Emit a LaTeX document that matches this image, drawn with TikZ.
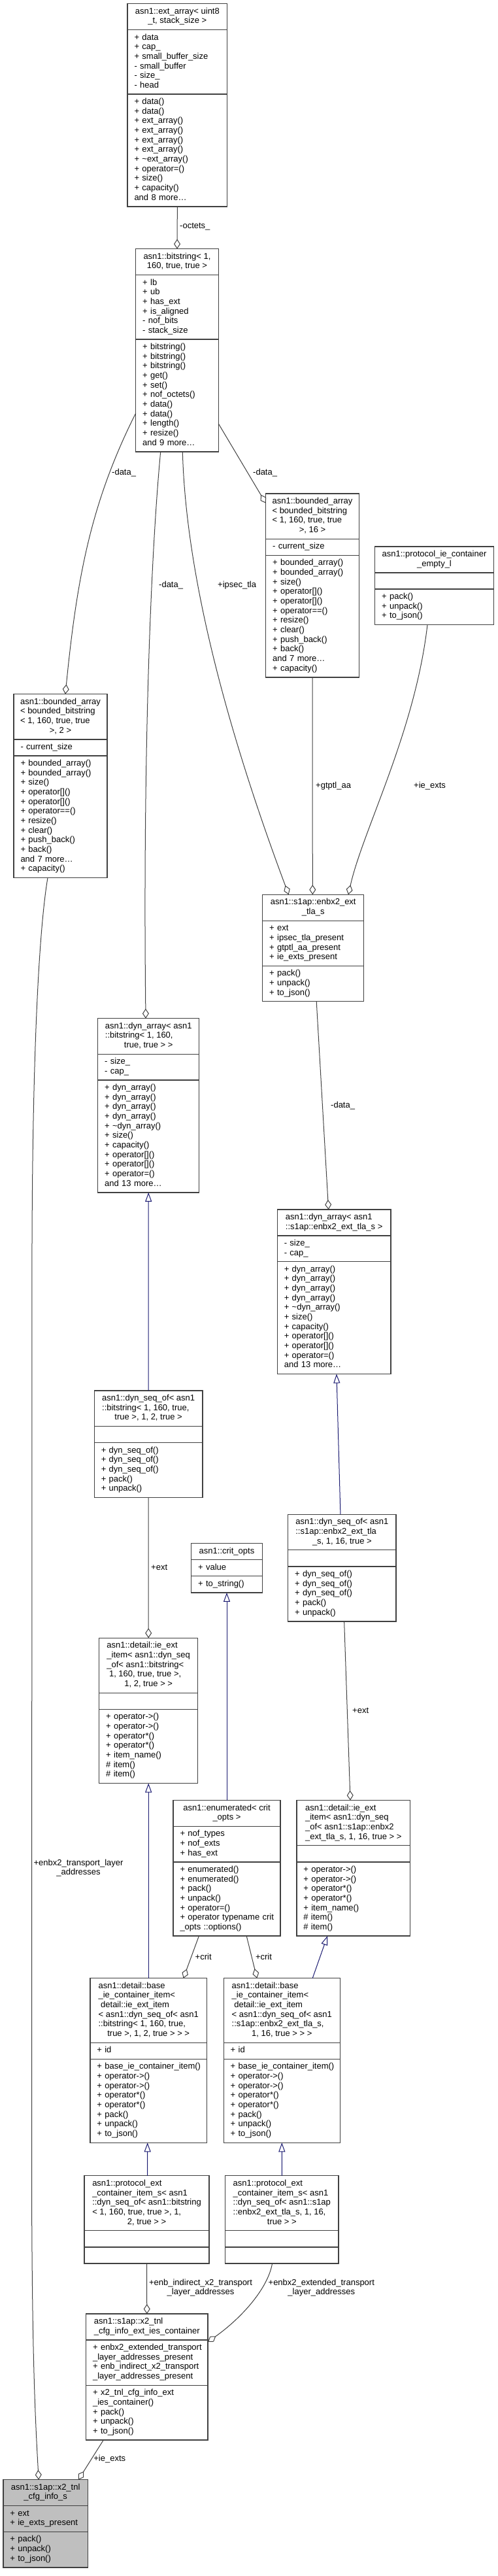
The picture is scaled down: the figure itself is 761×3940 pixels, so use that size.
\documentclass[tikz,border=0pt]{standalone}
\usepackage{fontspec}
\setmainfont{Liberation Sans}
\usetikzlibrary{positioning, arrows.meta}
\definecolor{boxline}{RGB}{64,64,64}
\definecolor{edgegray}{RGB}{64,64,64}
\definecolor{inhblue}{RGB}{25,25,112}
\definecolor{focusgray}{RGB}{191,191,191}
\newcommand\clsname[2]{\begin{tabular}{@{}l@{}}#1\\\multicolumn{1}{@{}c@{}}{#2}\end{tabular}}
\newcommand\members[1]{\begin{tabular}{@{}l@{}}#1\end{tabular}}
\tikzset{
    cls part/.style={draw=boxline, line width=1.3pt, fill=white, outer sep=0pt, inner ysep=0pt, anchor=north},
    cls head/.style={cls part, minimum width=#1pt, inner xsep=0pt},
    cls body/.style={cls part, minimum width=#1pt, text width=#1pt-21pt, inner xsep=10.5pt, align=left},
    nrows/.style={minimum height=#1*14.67pt+10.5pt},
    use edge/.style={draw=edgegray, line width=1pt, -{Diamond[open, length=15pt, width=10pt]}},
    inherit edge/.style={draw=inhblue, line width=1pt, -{Triangle[open, length=14pt, width=10pt]}},
    edge label/.style={inner sep=0pt, anchor=west},
}

\begin{document}
\begin{tikzpicture}[x=1pt, y=-1pt, font=\fontsize{13}{14.67}\selectfont]
    \useasboundingbox (0,0) rectangle (761,3940);

    \node[cls head=152.7, nrows=2] (ttlEA) at (271.35,5.7) {\clsname{asn1::ext\_array< uint8}{\_t, stack\_size >}};
    \node[cls body=152.7, nrows=6, below=0pt of ttlEA] (attEA) {\members{+ data\\+ cap\_\\+ small\_buffer\_size\\- small\_buffer\\- size\_\\- head}};
    \node[cls body=152.7, nrows=11, below=0pt of attEA] (mthEA) {\members{+ data()\\+ data()\\+ ext\_array()\\+ ext\_array()\\+ ext\_array()\\+ ext\_array()\\+ \textasciitilde ext\_array()\\+ operator=()\\+ size()\\+ capacity()\\and 8 more…}};

    \node[cls head=126.6, nrows=2] (ttlBS) at (271,380.7) {\clsname{asn1::bitstring< 1,}{160, true, true >}};
    \node[cls body=126.6, nrows=6, below=0pt of ttlBS] (attBS) {\members{+ lb\\+ ub\\+ has\_ext\\+ is\_aligned\\- nof\_bits\\- stack\_size}};
    \node[cls body=126.6, nrows=11, below=0pt of attBS] (mthBS) {\members{+ bitstring()\\+ bitstring()\\+ bitstring()\\+ get()\\+ set()\\+ nof\_octets()\\+ data()\\+ data()\\+ length()\\+ resize()\\and 9 more…}};

    \node[cls head=142.6, nrows=4] (ttlBA) at (478,755) {\clsname{asn1::bounded\_array\\< bounded\_bitstring\\< 1, 160, true, true}{>, 16 >}};
    \node[cls body=142.6, nrows=1, below=0pt of ttlBA] (attBA) {\members{- current\_size}};
    \node[cls body=142.6, nrows=12, below=0pt of attBA] (mthBA) {\members{+ bounded\_array()\\+ bounded\_array()\\+ size()\\+ operator[]()\\+ operator[]()\\+ operator==()\\+ resize()\\+ clear()\\+ push\_back()\\+ back()\\and 7 more…\\+ capacity()}};

    \node[cls head=181.6, nrows=2] (ttlPE) at (664.5,836) {\clsname{asn1::protocol\_ie\_container}{\_empty\_l}};
    \node[cls body=181.6, nrows=1, below=0pt of ttlPE] (attPE) {};
    \node[cls body=181.6, nrows=3, below=0pt of attPE] (mthPE) {\members{+ pack()\\+ unpack()\\+ to\_json()}};

    \node[cls head=143, nrows=4] (ttlBB) at (92.5,1061.7) {\clsname{asn1::bounded\_array\\< bounded\_bitstring\\< 1, 160, true, true}{>, 2 >}};
    \node[cls body=143, nrows=1, below=0pt of ttlBB] (attBB) {\members{- current\_size}};
    \node[cls body=143, nrows=12, below=0pt of attBB] (mthBB) {\members{+ bounded\_array()\\+ bounded\_array()\\+ size()\\+ operator[]()\\+ operator[]()\\+ operator==()\\+ resize()\\+ clear()\\+ push\_back()\\+ back()\\and 7 more…\\+ capacity()}};

    \node[cls head=155, nrows=2] (ttlET) at (479.2,1368.3) {\clsname{asn1::s1ap::enbx2\_ext}{\_tla\_s}};
    \node[cls body=155, nrows=4, below=0pt of ttlET] (attET) {\members{+ ext\\+ ipsec\_tla\_present\\+ gtptl\_aa\_present\\+ ie\_exts\_present}};
    \node[cls body=155, nrows=3, below=0pt of attET] (mthET) {\members{+ pack()\\+ unpack()\\+ to\_json()}};

    \node[cls head=155, nrows=3] (ttlDA) at (227.2,1557.7) {\clsname{asn1::dyn\_array< asn1\\::bitstring< 1, 160,}{true, true > >}};
    \node[cls body=155, nrows=2, below=0pt of ttlDA] (attDA) {\members{- size\_\\- cap\_}};
    \node[cls body=155, nrows=11, below=0pt of attDA] (mthDA) {\members{+ dyn\_array()\\+ dyn\_array()\\+ dyn\_array()\\+ dyn\_array()\\+ \textasciitilde dyn\_array()\\+ size()\\+ capacity()\\+ operator[]()\\+ operator[]()\\+ operator=()\\and 13 more…}};

    \node[cls head=173.7, nrows=2] (ttlDE) at (511.15,1850) {\clsname{asn1::dyn\_array< asn1}{::s1ap::enbx2\_ext\_tla\_s >}};
    \node[cls body=173.7, nrows=2, below=0pt of ttlDE] (attDE) {\members{- size\_\\- cap\_}};
    \node[cls body=173.7, nrows=11, below=0pt of attDE] (mthDE) {\members{+ dyn\_array()\\+ dyn\_array()\\+ dyn\_array()\\+ dyn\_array()\\+ \textasciitilde dyn\_array()\\+ size()\\+ capacity()\\+ operator[]()\\+ operator[]()\\+ operator=()\\and 13 more…}};

    \node[cls head=165.7, nrows=3] (ttlSB) at (227.15,2127) {\clsname{asn1::dyn\_seq\_of< asn1\\::bitstring< 1, 160, true,}{true >, 1, 2, true >}};
    \node[cls body=165.7, nrows=1, below=0pt of ttlSB] (attSB) {};
    \node[cls body=165.7, nrows=5, below=0pt of attSB] (mthSB) {\members{+ dyn\_seq\_of()\\+ dyn\_seq\_of()\\+ dyn\_seq\_of()\\+ pack()\\+ unpack()}};

    \node[cls head=108.6, nrows=1] (ttlCO) at (347,2360.4) {asn1::crit\_opts};
    \node[cls body=108.6, nrows=1, below=0pt of ttlCO] (attCO) {\members{+ value}};
    \node[cls body=108.6, nrows=1, below=0pt of attCO] (mthCO) {\members{+ to\_string()}};

    \node[cls head=165.3, nrows=3] (ttlSE) at (523.35,2316.3) {\clsname{asn1::dyn\_seq\_of< asn1\\::s1ap::enbx2\_ext\_tla}{\_s, 1, 16, true >}};
    \node[cls body=165.3, nrows=1, below=0pt of ttlSE] (attSE) {};
    \node[cls body=165.3, nrows=5, below=0pt of attSE] (mthSE) {\members{+ dyn\_seq\_of()\\+ dyn\_seq\_of()\\+ dyn\_seq\_of()\\+ pack()\\+ unpack()}};

    \node[cls head=151, nrows=5] (ttlIB) at (227.2,2505.3) {\clsname{asn1::detail::ie\_ext\\\_item< asn1::dyn\_seq\\\_of< asn1::bitstring<\\\ 1, 160, true, true >,}{1, 2, true > >}};
    \node[cls body=151, nrows=1, below=0pt of ttlIB] (attIB) {};
    \node[cls body=151, nrows=7, below=0pt of attIB] (mthIB) {\members{+ operator->()\\+ operator->()\\+ operator*()\\+ operator*()\\+ item\_name()\\\# item()\\\# item()}};

    \node[cls head=164, nrows=2] (ttlEN) at (347,2753.5) {\clsname{asn1::enumerated< crit}{\_opts >}};
    \node[cls body=164, nrows=3, below=0pt of ttlEN] (attEN) {\members{+ nof\_types\\+ nof\_exts\\+ has\_ext}};
    \node[cls body=164, nrows=7, below=0pt of attEN] (mthEN) {\members{+ enumerated()\\+ enumerated()\\+ pack()\\+ unpack()\\+ operator=()\\+ operator typename crit\\\_opts ::options()}};

    \node[cls head=173.8, nrows=4] (ttlIE) at (540.8,2753.5) {\clsname{asn1::detail::ie\_ext\\\_item< asn1::dyn\_seq\\\_of< asn1::s1ap::enbx2}{\_ext\_tla\_s, 1, 16, true > >}};
    \node[cls body=173.8, nrows=1, below=0pt of ttlIE] (attIE) {};
    \node[cls body=173.8, nrows=7, below=0pt of attIE] (mthIE) {\members{+ operator->()\\+ operator->()\\+ operator*()\\+ operator*()\\+ item\_name()\\\# item()\\\# item()}};

    \node[cls head=178.6, nrows=6] (ttlCB) at (227.2,3025.7) {\clsname{asn1::detail::base\\\_ie\_container\_item<\\\ detail::ie\_ext\_item\\< asn1::dyn\_seq\_of< asn1\\::bitstring< 1, 160, true,}{true >, 1, 2, true > > >}};
    \node[cls body=178.6, nrows=1, below=0pt of ttlCB] (attCB) {\members{+ id}};
    \node[cls body=178.6, nrows=8, below=0pt of attCB] (mthCB) {\members{+ base\_ie\_container\_item()\\+ operator->()\\+ operator->()\\+ operator*()\\+ operator*()\\+ pack()\\+ unpack()\\+ to\_json()}};

    \node[cls head=178.2, nrows=6] (ttlCE) at (431.3,3025.7) {\clsname{asn1::detail::base\\\_ie\_container\_item<\\\ detail::ie\_ext\_item\\< asn1::dyn\_seq\_of< asn1\\::s1ap::enbx2\_ext\_tla\_s,}{1, 16, true > > >}};
    \node[cls body=178.2, nrows=1, below=0pt of ttlCE] (attCE) {\members{+ id}};
    \node[cls body=178.2, nrows=8, below=0pt of attCE] (mthCE) {\members{+ base\_ie\_container\_item()\\+ operator->()\\+ operator->()\\+ operator*()\\+ operator*()\\+ pack()\\+ unpack()\\+ to\_json()}};

    \node[cls head=190.9, nrows=5] (ttlPB) at (224.55,3327.8) {\clsname{asn1::protocol\_ext\\\_container\_item\_s< asn1\\::dyn\_seq\_of< asn1::bitstring\\< 1, 160, true, true >, 1,}{2, true > >}};
    \node[cls body=190.9, nrows=1, below=0pt of ttlPB] (attPB) {};
    \node[cls body=190.9, nrows=1, below=0pt of attPB] (mthPB) {};

    \node[cls head=173.3, nrows=5] (ttlPX) at (431.35,3327.8) {\clsname{asn1::protocol\_ext\\\_container\_item\_s< asn1\\::dyn\_seq\_of< asn1::s1ap\\::enbx2\_ext\_tla\_s, 1, 16,}{true > >}};
    \node[cls body=173.3, nrows=1, below=0pt of ttlPX] (attPX) {};
    \node[cls body=173.3, nrows=1, below=0pt of attPX] (mthPX) {};

    \node[cls head=186.4, nrows=2] (ttlXC) at (224.8,3539.1) {\clsname{asn1::s1ap::x2\_tnl}{\_cfg\_info\_ext\_ies\_container}};
    \node[cls body=186.4, nrows=4, below=0pt of ttlXC] (attXC) {\members{+ enbx2\_extended\_transport\\\_layer\_addresses\_present\\+ enb\_indirect\_x2\_transport\\\_layer\_addresses\_present}};
    \node[cls body=186.4, nrows=5, below=0pt of attXC] (mthXC) {\members{+ x2\_tnl\_cfg\_info\_ext\\\_ies\_container()\\+ pack()\\+ unpack()\\+ to\_json()}};

    \node[cls head=129.6, nrows=2, fill=focusgray] (ttlXS) at (69.7,3792.7) {\clsname{asn1::s1ap::x2\_tnl}{\_cfg\_info\_s}};
    \node[cls body=129.6, nrows=2, below=0pt of ttlXS, fill=focusgray] (attXS) {\members{+ ext\\+ ie\_exts\_present}};
    \node[cls body=129.6, nrows=3, below=0pt of attXS, fill=focusgray] (mthXS) {\members{+ pack()\\+ unpack()\\+ to\_json()}};

    \draw[use edge] (mthEA.south) -- (ttlBS.north);
    \draw[use edge] ([yshift=-27pt]mthBS.west) .. controls (140,767) and (118,880) .. ([xshift=7.5pt]ttlBB.north);
    \draw[use edge] ([xshift=-25.3pt]mthBS.south) .. controls (228,880) and (219,1200) .. ([xshift=-4.2pt]ttlDA.north);
    \draw[use edge] ([xshift=8.3pt]mthBS.south) .. controls (285,900) and (360,1150) .. ([xshift=-37.5pt]ttlET.north);
    \draw[use edge] ([yshift=-43pt]mthBS.east) -- ([yshift=20pt]ttlBA.west);
    \draw[use edge] ([xshift=-10.5pt]mthPE.south) .. controls (635,1120) and (555,1270) .. ([xshift=53.8pt]ttlET.north);
    \draw[use edge] (mthBA.south) -- ([xshift=-0.9pt]ttlET.north);
    \draw[use edge] ([xshift=5pt]mthET.south) -- ([xshift=-8.5pt]ttlDE.north);
    \draw[inherit edge] ([xshift=-2.4pt]ttlSE.north) -- ([xshift=3.8pt]mthDE.south);
    \draw[inherit edge] (ttlSB.north) -- (mthDA.south);
    \draw[use edge] (mthSB.south) -- (ttlIB.north);
    \draw[use edge] ([xshift=3.3pt]mthSE.south) -- ([xshift=-4.8pt]ttlIE.north);
    \draw[inherit edge] (ttlEN.north) -- (mthCO.south);
    \draw[inherit edge] (ttlCB.north) -- (mthIB.south);
    \draw[use edge] ([xshift=-42.6pt]mthEN.south) -- ([xshift=53.4pt]ttlCB.north);
    \draw[use edge] ([xshift=30.2pt]mthEN.south) -- ([xshift=-38.1pt]ttlCE.north);
    \draw[inherit edge] ([xshift=46.9pt]ttlCE.north) -- ([xshift=-39.8pt]mthIE.south);
    \draw[inherit edge] ([xshift=1.1pt]ttlPB.north) -- ([xshift=-1.5pt]mthCB.south);
    \draw[inherit edge] (ttlPX.north) -- (mthCE.south);
    \draw[use edge] (mthPB.south) -- (ttlXC.north);
    \draw[use edge] ([xshift=-14.8pt]mthPX.south) .. controls (410,3500) and (370,3545) .. ([yshift=-3pt]attXC.north east);
    \draw[use edge] ([xshift=-66.5pt]mthXC.south) -- ([xshift=50.3pt]ttlXS.north);
    \draw[use edge] ([xshift=-19.5pt]mthBB.south) .. controls (60,1420) and (50,1600) .. (49,1900) -- (48.5,3300) .. controls (48.5,3600) and (54,3700) .. ([xshift=-10.5pt]ttlXS.north);

    \node[edge label] (lOctets) at (275,347) {-octets\_};
    \node[edge label] (lDataBB) at (171,723) {-data\_};
    \node[edge label] (lDataDA) at (243,895) {-data\_};
    \node[edge label] (lIpsec) at (333,895) {+ipsec\_tla};
    \node[edge label] (lDataBA) at (387,723) {-data\_};
    \node[edge label] (lIeExtsET) at (633,1201.7) {+ie\_exts};
    \node[edge label] (lGtptl) at (483,1201.7) {+gtptl\_aa};
    \node[edge label] (lDataDE) at (506,1690.7) {-data\_};
    \node[edge label] (lExtIB) at (231,2397) {+ext};
    \node[edge label] (lExtIE) at (539,2616) {+ext};
    \node[edge label] (lCritB) at (298.5,2992.7) {+crit};
    \node[edge label] (lCritE) at (390.8,2992.7) {+crit};
    \node[edge label, anchor=center, align=center] (lIndirect) at (307,3499) {+enb\_indirect\_x2\_transport\\\_layer\_addresses};
    \node[edge label, anchor=center, align=center] (lExtended) at (491.8,3499) {+enbx2\_extended\_transport\\\_layer\_addresses};
    \node[edge label] (lIeExtsXS) at (143.2,3761.4) {+ie\_exts};
    \node[edge label, anchor=center, align=center] (lTransport) at (120,2857) {+enbx2\_transport\_layer\\\_addresses};
\end{tikzpicture}
\end{document}
